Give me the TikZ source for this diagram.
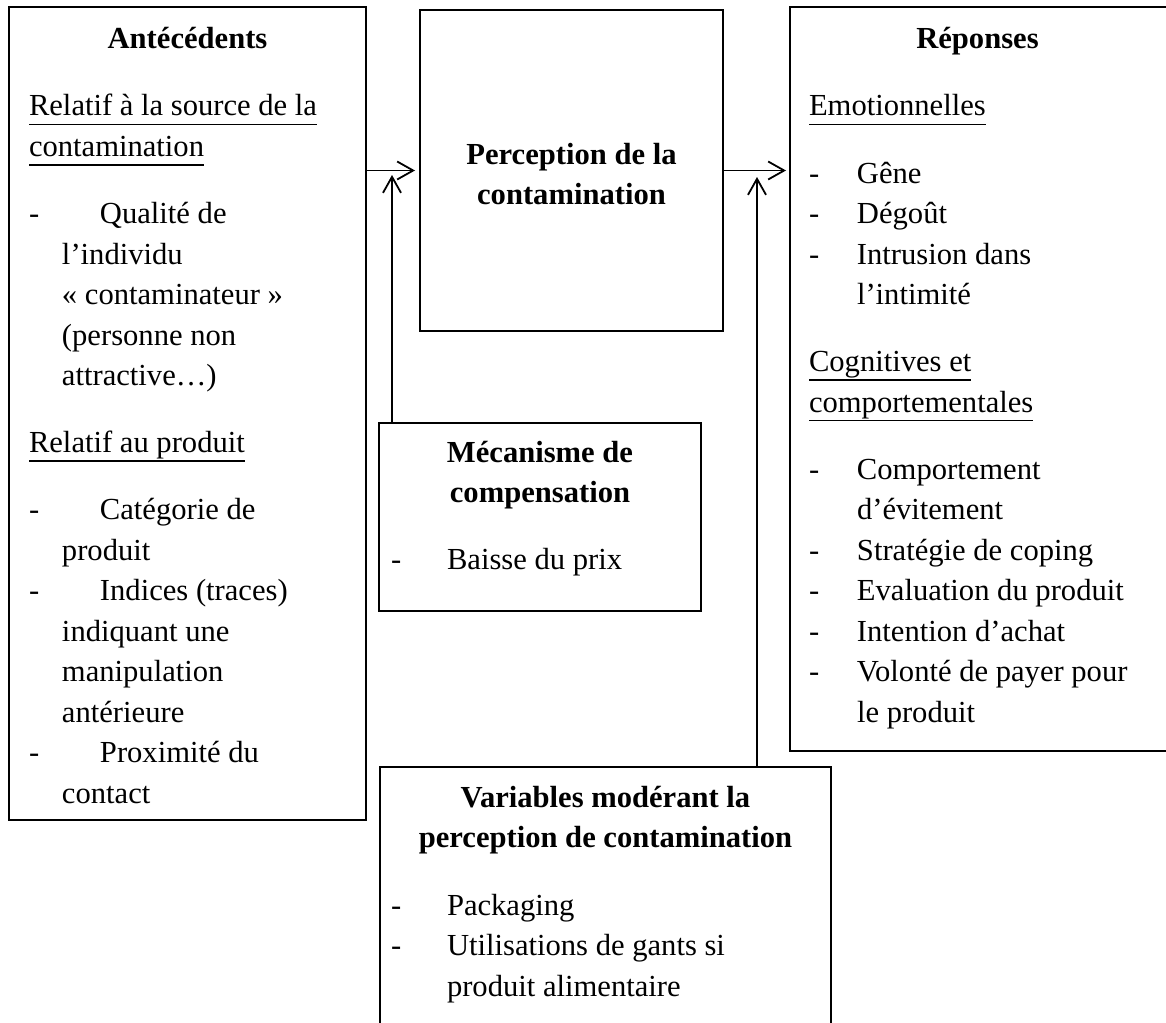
\documentclass[tikz,border=0pt]{standalone}
\usepackage{fontspec}
\setmainfont{Liberation Serif}
\usetikzlibrary{arrows.meta,fit}
\newlength\ulwidth
\newcommand\ulin[1]{\leavevmode\settowidth\ulwidth{#1}\rlap{\rule[-4.6pt]{\ulwidth}{0.8pt}}#1}
\newcommand\dashitem[2]{\leavevmode\makebox[#1][l]{-}#2}
\newcommand\contline[2]{\leavevmode\hspace*{#1}#2}
\newcommand\fs{\fontsize{15.3}{20.25}\selectfont}
\begin{document}
\begin{tikzpicture}[x=0.5pt,y=-0.5pt,
  box/.style={draw, line width=0.8pt, inner sep=0pt, outer sep=0pt},
  arr/.style={line width=0.9pt, -{Straight Barb[length=8pt,width=9pt]}},
  txt/.style={inner sep=0pt, outer sep=0pt, font=\fs}]
\clip (0,0) rectangle (1166,1022);
\fill[white] (0,0) rectangle (1166,1022);
% boxes
\node[box, fit={(9,7)(366,820)}] (L) {};
\node[box, fit={(420,10)(723,331)}] (P) {};
\node[box, fit={(790,7)(1168,751)}] (R) {};
\node[box, fit={(379,423)(701,611)}] (M) {};
\node[box, fit={(380,767)(831,1040)}] (V) {};
% titles
\node[txt, anchor=base] (Lt) at (187.5,49) {\bfseries Antécédents};
\node[txt, anchor=base] (Rt) at (977.5,49) {\bfseries Réponses};
\node[txt, anchor=base] (Pt) at (571.5,164) {\parbox[t]{140pt}{\centering\bfseries Perception de la\\contamination}};
\node[txt, anchor=base] (Mt) at (540,462) {\parbox[t]{150pt}{\centering\bfseries Mécanisme de\\compensation}};
\node[txt, anchor=base] (Vt) at (605.5,807) {\parbox[t]{210pt}{\centering\bfseries Variables modérant la\\perception de contamination}};
% bodies
\node[txt, anchor=base west] (Lb) at (29,116) {\parbox[t]{170pt}{\raggedright
\ulin{Relatif à la source de la}\\
\ulin{contamination}\\[13.25pt]
\dashitem{35.5pt}{Qualité de}\\
\contline{16.5pt}{l’individu}\\
\contline{16.5pt}{« contaminateur »}\\
\contline{16.5pt}{(personne non}\\
\contline{16.5pt}{attractive…)}\\[13.25pt]
\ulin{Relatif au produit}\\[13.25pt]
\dashitem{35.5pt}{Catégorie de}\\
\contline{16.5pt}{produit}\\
\dashitem{35.5pt}{Indices (traces)}\\
\contline{16.5pt}{indiquant une}\\
\contline{16.5pt}{manipulation}\\
\contline{16.5pt}{antérieure}\\
\dashitem{35.5pt}{Proximité du}\\
\contline{16.5pt}{contact}}};
\node[txt, anchor=base west] (Rb) at (809,116) {\parbox[t]{175pt}{\raggedright
\ulin{Emotionnelles}\\[13.25pt]
\dashitem{24pt}{Gêne}\\
\dashitem{24pt}{Dégoût}\\
\dashitem{24pt}{Intrusion dans}\\
\contline{24pt}{l’intimité}\\[13.25pt]
\ulin{Cognitives et}\\
\ulin{comportementales}\\[13.25pt]
\dashitem{24pt}{Comportement}\\
\contline{24pt}{d’évitement}\\
\dashitem{24pt}{Stratégie de coping}\\
\dashitem{24pt}{Evaluation du produit}\\
\dashitem{24pt}{Intention d’achat}\\
\dashitem{24pt}{Volonté de payer pour}\\
\contline{24pt}{le produit}}};
\node[txt, anchor=base west] (Mb) at (391,569) {\dashitem{28pt}{Baisse du prix}};
\node[txt, anchor=base west] (Vb) at (391,915) {\parbox[t]{200pt}{\raggedright
\dashitem{28pt}{Packaging}\\
\dashitem{28pt}{Utilisations de gants si}\\
\contline{28pt}{produit alimentaire}}};
% connectors
\coordinate (a1) at (392,175);
\coordinate (a2) at (757,177);
\draw[arr] (L.east |- P.west) -- ([xshift=-2.5pt]P.west);
\draw[arr] (P.east) -- ([xshift=-2pt]R.west |- P.east);
\draw[arr] (M.north -| a1) -- (a1);
\draw[arr] (V.north -| a2) -- (a2);
\end{tikzpicture}
\end{document}
